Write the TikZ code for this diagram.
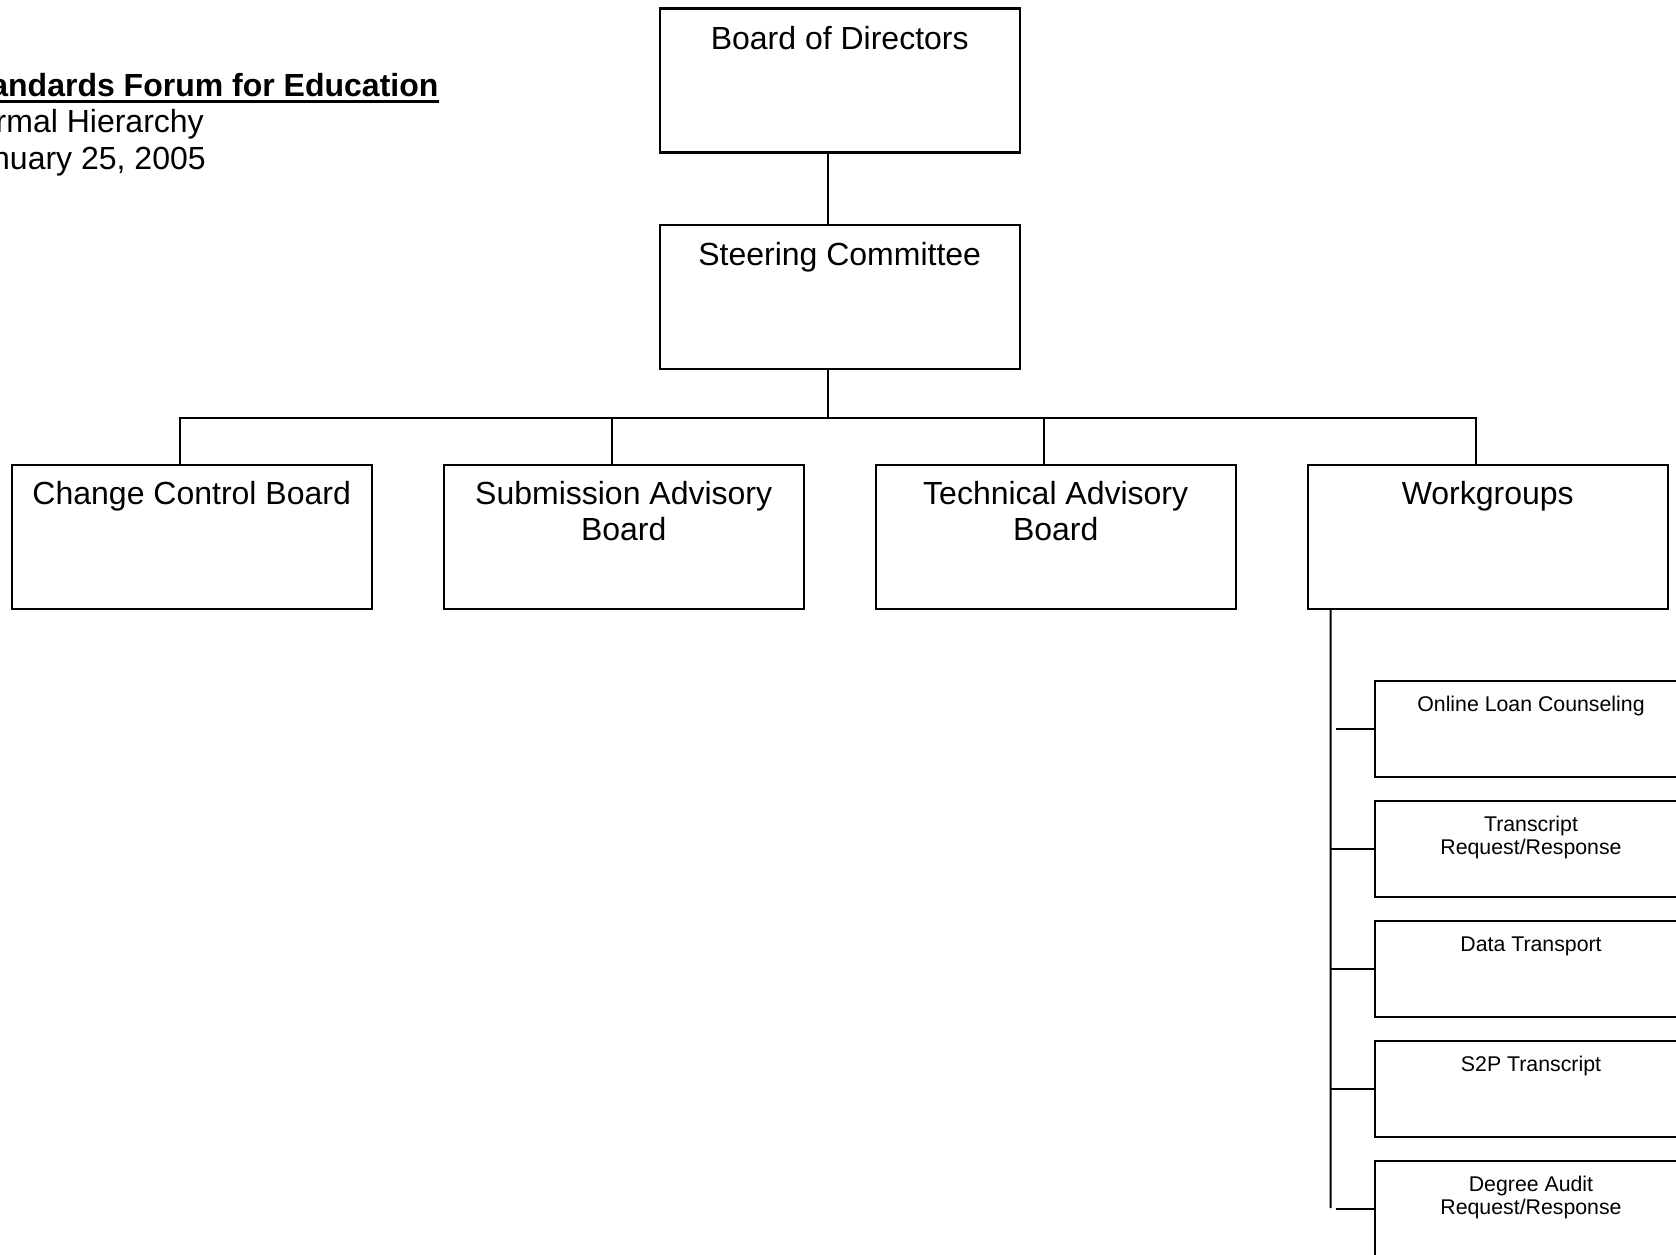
\documentclass[tikz,border=0pt]{standalone}
\usepackage{fontspec}
\setmainfont{Liberation Sans}
\usetikzlibrary{calc}

\tikzset{
  orgbox/.style={draw,line width=1.1pt,minimum width=180pt,minimum height=72pt,inner sep=0},
  subbox/.style={draw,line width=1.1pt,minimum width=156pt,minimum height=48pt,inner sep=0},
  bigtext/.style={anchor=base,inner sep=0,align=center,font=\fontsize{16}{18.15}\selectfont},
  smalltext/.style={anchor=base,inner sep=0,align=center,font=\fontsize{10.65}{11.75}\selectfont},
  headtext/.style={anchor=base west,inner sep=0,font=\fontsize{16}{18}\selectfont},
  link/.style={line width=1.1pt}
}

\begin{document}
\begin{tikzpicture}[x=0.5pt,y=-0.5pt]

\useasboundingbox (0,0) rectangle (1676,1254);

% heading
\node[headtext,font=\fontsize{16}{18}\selectfont\bfseries] (title) at (-42,96) {Standards Forum for Education};
\node[headtext] (kind) at (-42,132.5) {Formal Hierarchy};
\node[headtext] (date) at (-42,169.5) {January 25, 2005};
\draw[line width=1.6pt] ($(title.base west)+(0,5.5)$) -- ($(title.base east)+(0,5.5)$);

% top of the chart
\node[orgbox] (bod) at (839.7,80.5) {};
\node[orgbox] (sc) at (839.7,297) {};
\node[bigtext] (bodt) at ($(bod.north)+(0,42.5)$) {Board of Directors};
\node[bigtext] (sct) at ($(sc.north)+(0,42)$) {Steering Committee};

% second row (base of a two-line text is its last line)
\node[orgbox] (ccb) at (191.7,537) {};
\node[orgbox] (sab) at (623.7,537) {};
\node[orgbox] (tab) at (1055.7,537) {};
\node[orgbox] (wg) at (1487.7,537) {};
\node[bigtext] (ccbt) at ($(ccb.north)+(0,40.6)$) {Change Control Board};
\node[bigtext] (sabt) at ($(sab.north)+(0,76.9)$) {Submission Advisory\\Board};
\node[bigtext] (tabt) at ($(tab.north)+(0,76.9)$) {Technical Advisory\\Board};
\node[bigtext] (wgt) at ($(wg.north)+(0,40.6)$) {Workgroups};

% workgroups
\node[subbox] (olc) at (1531,728.7) {};
\node[subbox] (trr) at (1531,848.7) {};
\node[subbox] (dt) at (1531,968.7) {};
\node[subbox] (s2p) at (1531,1088.7) {};
\node[subbox] (dar) at (1531,1208.7) {};
\node[smalltext] (olct) at ($(olc.north)+(0,31.5)$) {Online Loan Counseling};
\node[smalltext] (trrt) at ($(trr.north)+(0,55)$) {Transcript\\Request/Response};
\node[smalltext] (dtt) at ($(dt.north)+(0,31.5)$) {Data Transport};
\node[smalltext] (s2pt) at ($(s2p.north)+(0,31.5)$) {S2P Transcript};
\node[smalltext] (dart) at ($(dar.north)+(0,55)$) {Degree Audit\\Request/Response};

% connectors
\draw[link] ($(bod.south)+(-12,0)$) -- ($(sc.north)+(-12,0)$);
\coordinate (bus) at ($(sc.south)+(-12,47.7)$);
\draw[link] ($(sc.south)+(-12,0)$) -- (bus);
\foreach \n in {ccb,sab,tab,wg}
  \draw[link] (bus) -| ($(\n.north)+(-12,0)$);

\draw[link] ($(wg.south west)+(24,0)$) -- ($(dar.west)+(-43.3,-0.5)$);
\foreach \n in {trr,dt,s2p}
  \draw[link] ($(\n.west)+(-43.3,0)$) -- (\n.west);
\foreach \n in {olc,dar}
  \draw[link] ($(\n.west)+(-38.3,0)$) -- (\n.west);

\end{tikzpicture}
\end{document}
